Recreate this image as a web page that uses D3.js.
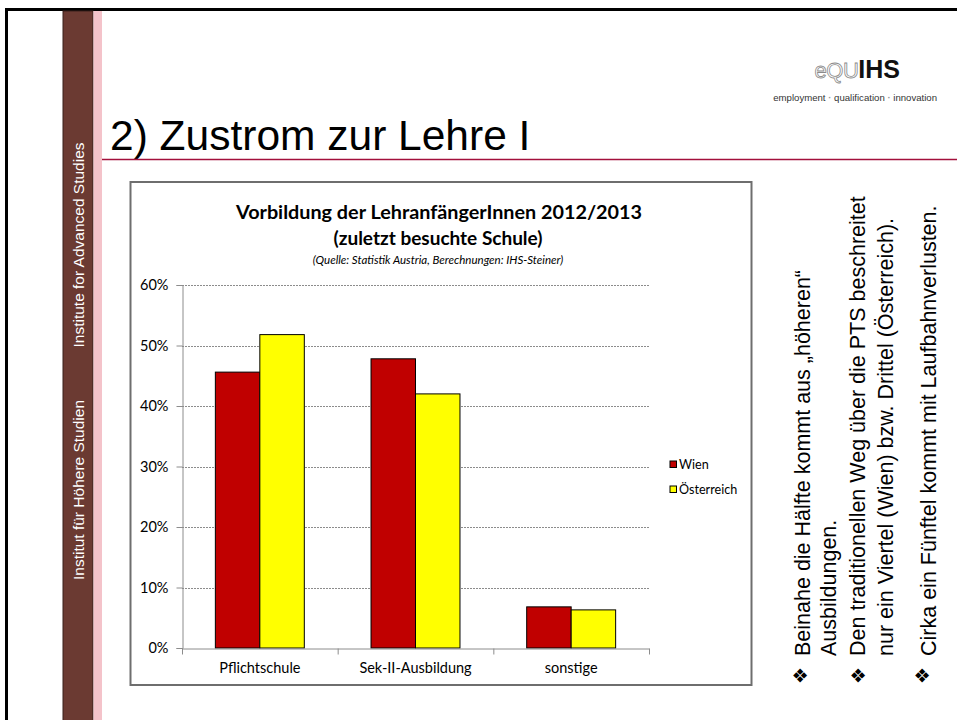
<!DOCTYPE html>
<html>
<head>
<meta charset="utf-8">
<script src="https://cdn.jsdelivr.net/npm/d3@7"></script>
<style>
	body { margin: 0; background: #ffffff; }
	svg { display: block; }
	.chartFont { font-family: Lato, "Open Sans", sans-serif; }
	.slideFont { font-family: "Liberation Sans", Arial, sans-serif; }
</style>
</head>
<body>
<div id="slide"></div>
<script>
//global variables
var categories = ["Pflichtschule", "Sek-II-Ausbildung", "sonstige"], //x categories
	seriesNames = ["Wien", "Österreich"], //legend entries
	wienValues = [45.6, 47.8, 6.8], //percent
	oesterreichValues = [51.8, 42.0, 6.3], //percent
	yTicks = [0, 10, 20, 30, 40, 50, 60],
	seriesColours = ["#C00000", "#FFFF00"],
	chartTitle = ["Vorbildung der LehranfängerInnen 2012/2013", "(zuletzt besuchte Schule)"],
	chartSource = "(Quelle: Statistik Austria, Berechnungen: IHS-Steiner)",
	slideTitle = "2) Zustrom zur Lehre I",
	bullets = [
		["Beinahe die Hälfte kommt aus „höheren“", "Ausbildungen."],
		["Den traditionellen Weg über die PTS beschreitet", "nur ein Viertel (Wien) bzw. Drittel (Österreich)."],
		["Cirka ein Fünftel kommt mit Laufbahnverlusten."]
	];

//slide dimensions
var width = 957,
	height = 720;

//plot area inside the chart frame
var plotLeft = 182,
	plotRight = 649,
	plotTop = 285,
	plotBottom = 648;

var svg = d3.select("#slide")
	.append("svg")
		.attr("width", width)
		.attr("height", height);

function initialize() {
	drawSlideFrame();
	drawLogo();
	drawChart();
	drawBullets();
}

//black border, brown sidebar, title and divider
function drawSlideFrame() {
	svg.append("rect")
		.attr("x", 5).attr("y", 8)
		.attr("width", width).attr("height", 3)
		.style("fill", "#000");
	svg.append("rect")
		.attr("x", 5).attr("y", 8)
		.attr("width", 3).attr("height", height)
		.style("fill", "#000");

	svg.append("rect")
		.attr("x", 63).attr("y", 11)
		.attr("width", 30).attr("height", height)
		.style("fill", "#6B3A32")
		.style("stroke", "#3b211c")
		.style("stroke-width", 1);
	svg.append("rect")
		.attr("x", 93.5).attr("y", 11)
		.attr("width", 8.5).attr("height", height)
		.style("fill", "#F4C3CA");

	//sidebar labels
	var sideLabels = [["Institute for Advanced Studies", 245], ["Institut für Höhere Studien", 490]];
	svg.selectAll(".sideLabel")
		.data(sideLabels)
		.enter()
		.append("text")
			.attr("class", "sideLabel slideFont")
			.attr("transform", function(d) { return "translate(84," + d[1] + ") rotate(-90)"; })
			.style("text-anchor", "middle")
			.style("font-size", "15.5px")
			.style("fill", "#ffffff")
			.text(function(d) { return d[0]; });

	svg.append("text")
		.attr("class", "slideFont")
		.attr("x", 110)
		.attr("y", 150)
		.style("font-size", "42.5px")
		.style("fill", "#000")
		.text(slideTitle);

	svg.append("line")
		.attr("x1", 102).attr("x2", width)
		.attr("y1", 159.5).attr("y2", 159.5)
		.style("stroke", "#A3103C")
		.style("stroke-width", 1.5);
}

function drawLogo() {
	var logo = svg.append("text")
		.attr("class", "slideFont")
		.attr("x", 900)
		.attr("y", 78)
		.style("text-anchor", "end")
		.style("font-size", "25px")
		.style("font-weight", "bold");
	logo.append("tspan")
		.style("fill", "#ffffff")
		.style("stroke", "#8a8a8a")
		.style("stroke-width", 0.8)
		.style("font-weight", "normal")
		.style("font-size", "22px")
		.style("letter-spacing", "-0.5px")
		.text("eQU");
	logo.append("tspan")
		.style("fill", "#111")
		.text("IHS");

	var tag = svg.append("text")
		.attr("class", "slideFont")
		.attr("x", 937)
		.attr("y", 101)
		.style("text-anchor", "end")
		.style("font-size", "9.6px")
		.style("fill", "#333");
	tag.append("tspan").text("employment ");
	tag.append("tspan").style("fill", "#999").style("font-weight", "bold").text("·");
	tag.append("tspan").text(" qualification ");
	tag.append("tspan").style("fill", "#999").style("font-weight", "bold").text("·");
	tag.append("tspan").text(" innovation");
}

function drawChart() {
	//chart frame
	svg.append("rect")
		.attr("x", 130.5).attr("y", 182)
		.attr("width", 621).attr("height", 503)
		.style("fill", "#fff")
		.style("stroke", "#6e6e6e")
		.style("stroke-width", 2);

	var chart = svg.append("g").attr("class", "chartFont");

	//titles
	chart.append("text")
		.attr("x", 439).attr("y", 219)
		.style("text-anchor", "middle")
		.style("font-size", "19.8px")
		.style("font-weight", "bold")
		.text(chartTitle[0]);
	chart.append("text")
		.attr("x", 438).attr("y", 245)
		.style("text-anchor", "middle")
		.style("font-size", "19px")
		.style("font-weight", "bold")
		.text(chartTitle[1]);
	chart.append("text")
		.attr("x", 438).attr("y", 264)
		.style("text-anchor", "middle")
		.style("font-size", "11.5px")
		.style("font-style", "italic")
		.text(chartSource);

	//scales
	var y = d3.scaleLinear()
		.domain([0, 60])
		.range([plotBottom, plotTop]);

	var x0 = d3.scaleBand()
		.domain(categories)
		.range([plotLeft, plotRight])
		.padding(0);

	var x1 = d3.scaleBand()
		.domain(seriesNames)
		.range([0, x0.bandwidth()])
		.paddingInner(0)
		.paddingOuter(0.75);

	//gridlines
	chart.selectAll(".grid")
		.data(yTicks.filter(function(d) { return d > 0; }))
		.enter()
		.append("line")
			.attr("class", "grid")
			.attr("x1", plotLeft).attr("x2", plotRight)
			.attr("y1", function(d) { return Math.round(y(d)) + 0.5; })
			.attr("y2", function(d) { return Math.round(y(d)) + 0.5; })
			.style("stroke", "#8c8c8c")
			.style("stroke-width", 1)
			.style("stroke-dasharray", "2,1");

	//y axis
	var yAxis = chart.append("g")
		.attr("transform", "translate(" + (plotLeft + 0.5) + ",0)")
		.call(d3.axisLeft(y)
			.tickValues(yTicks)
			.tickSize(6)
			.tickPadding(8)
			.tickFormat(function(d) { return d + "%"; }));
	yAxis.selectAll("path, line").style("stroke", "#8c8c8c");
	yAxis.selectAll("text")
		.style("font-family", "Lato, sans-serif")
		.style("font-size", "14.5px")
		.style("fill", "#000");

	//bars
	var rows = categories.map(function(c, i) {
		return { cat: c, values: [wienValues[i], oesterreichValues[i]] };
	});
	var groups = chart.selectAll(".group")
		.data(rows)
		.enter()
		.append("g")
			.attr("class", "group")
			.attr("transform", function(d) { return "translate(" + x0(d.cat) + ",0)"; });
	groups.selectAll("rect")
		.data(function(d) { return d.values.map(function(v, j) { return { name: seriesNames[j], value: v, j: j }; }); })
		.enter()
		.append("rect")
			.attr("x", function(d) { return x1(d.name); })
			.attr("y", function(d) { return y(d.value); })
			.attr("width", x1.bandwidth())
			.attr("height", function(d) { return plotBottom - y(d.value); })
			.style("fill", function(d) { return seriesColours[d.j]; })
			.style("stroke", "#000")
			.style("stroke-width", 1);

	//x axis (ticks sit between the categories)
	var xAxis = chart.append("g")
		.attr("transform", "translate(0," + (plotBottom + 0.5) + ")")
		.call(d3.axisBottom(x0).tickSize(0).tickPadding(14));
	xAxis.select(".domain").style("stroke", "#8c8c8c");
	xAxis.selectAll("text")
		.style("font-family", "Lato, sans-serif")
		.style("font-size", "14.5px")
		.style("fill", "#000");
	var bounds = categories.map(function(c) { return x0(c); }).concat([plotRight]);
	xAxis.selectAll(".bound")
		.data(bounds)
		.enter()
		.append("line")
			.attr("class", "bound")
			.attr("x1", function(d) { return d + 0.5; })
			.attr("x2", function(d) { return d + 0.5; })
			.attr("y1", 0).attr("y2", 6)
			.style("stroke", "#8c8c8c");

	//legend
	var legend = chart.selectAll(".legend")
		.data(seriesNames)
		.enter()
		.append("g")
			.attr("class", "legend")
			.attr("transform", function(d, i) { return "translate(670," + (461 + i * 25) + ")"; });
	legend.append("rect")
		.attr("width", 6.5).attr("height", 6.5)
		.style("fill", function(d, i) { return seriesColours[i]; })
		.style("stroke", "#000")
		.style("stroke-width", 1);
	legend.append("text")
		.attr("x", 9)
		.attr("y", 7.5)
		.style("font-size", "12.6px")
		.text(function(d) { return d; });
}

//rotated bullet text on the right
function drawBullets() {
	var lineX = [810, 836, 865, 893, 936], //baselines of the text columns
		bulletX = [807, 865, 929],
		k = 0,
		baseY = 656;
	bullets.forEach(function(lines, b) {
		svg.append("text")
			.attr("transform", "translate(" + bulletX[b] + "," + (baseY + 28) + ") rotate(-90)")
			.style("font-family", "DejaVu Sans, sans-serif")
			.style("font-size", "19px")
			.text("\u2756");
		lines.forEach(function(line) {
			svg.append("text")
				.attr("class", "slideFont")
				.attr("transform", "translate(" + lineX[k] + "," + baseY + ") rotate(-90)")
				.style("font-size", "21.5px")
				.style("fill", "#000")
				.text(line);
			k++;
		});
	});
}

document.addEventListener('DOMContentLoaded', initialize);
</script>
</body>
</html>
